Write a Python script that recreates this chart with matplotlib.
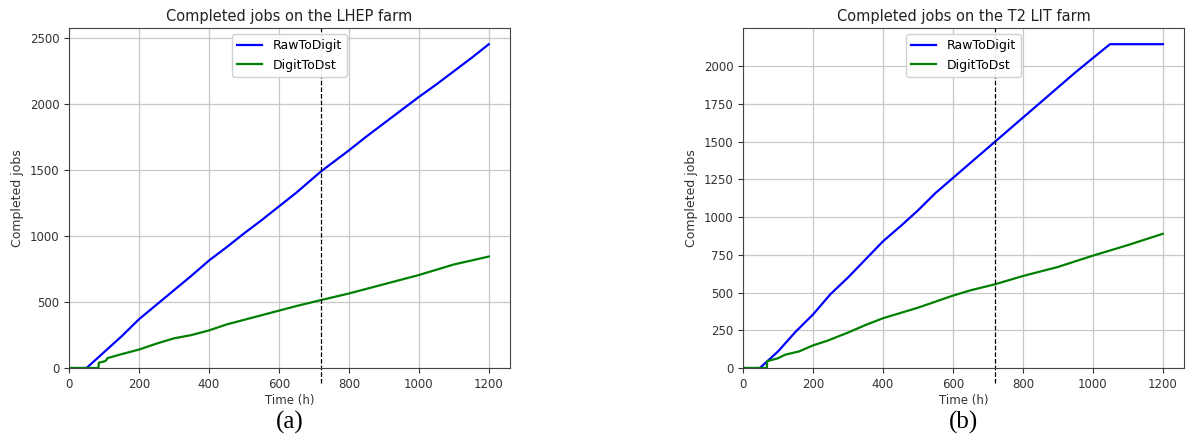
import numpy as np
import matplotlib
matplotlib.use("Agg")
import matplotlib.pyplot as plt

# completed jobs over time on two farms
# LHEP farm
lhep_t_raw = [0, 50, 100, 150, 200, 250, 300, 350, 400, 450, 500, 550, 600, 650, 720,
              800, 850, 900, 950, 1000, 1050, 1100, 1150, 1200]
lhep_raw = [0, 0, 120, 240, 370, 480, 590, 700, 815, 915, 1020, 1120, 1225, 1330, 1490,
            1650, 1755, 1855, 1955, 2055, 2150, 2250, 2350, 2455]
lhep_t_dst = [0, 84, 85, 100, 105, 110, 150, 200, 250, 300, 350, 400, 450, 500, 550,
              600, 650, 720, 800, 850, 900, 950, 1000, 1050, 1100, 1150, 1200]
lhep_dst = [0, 0, 40, 50, 55, 75, 105, 140, 185, 225, 250, 285, 330, 365, 400,
            435, 470, 515, 565, 600, 635, 670, 705, 745, 785, 815, 845]

# T2 LIT farm
lit_t_raw = [0, 48, 100, 150, 200, 250, 300, 350, 400, 450, 500, 550, 600, 650, 720,
             800, 850, 900, 950, 1000, 1049, 1200]
lit_raw = [0, 0, 110, 240, 355, 490, 600, 720, 840, 940, 1045, 1160, 1260, 1360, 1500,
           1660, 1760, 1860, 1960, 2055, 2147, 2147]
lit_t_dst = [0, 68, 69, 100, 120, 160, 200, 240, 300, 350, 400, 450, 500, 550, 600,
             650, 720, 800, 900, 1000, 1100, 1200]
lit_dst = [0, 0, 45, 65, 88, 110, 150, 180, 235, 285, 330, 365, 400, 440, 480,
           515, 555, 610, 670, 745, 815, 890]

cut_time = 720

panels = [
    ("Completed jobs on the LHEP farm", lhep_t_raw, lhep_raw, lhep_t_dst, lhep_dst, "(a)", 500),
    ("Completed jobs on the T2 LIT farm", lit_t_raw, lit_raw, lit_t_dst, lit_dst, "(b)", 250),
]

fig = plt.figure(figsize=(12.01, 4.41), dpi=100)
lefts = [0.0575, 0.6187]
width = 0.367

for left, (title, tr, yr, td, yd, cap, ystep) in zip(lefts, panels):
    ax = fig.add_axes([left, 0.1655, width, 0.771])
    ax.plot(tr, yr, color="blue", lw=1.6, label="RawToDigit")
    ax.plot(td, yd, color="green", lw=1.6, label="DigitToDst")
    ax.axvline(cut_time, ymin=-0.045, ymax=1, color="black", ls="--", lw=0.9, clip_on=False)
    ax.set_xlim(0, 1260)
    ax.set_ylim(0, max(yr) * 1.05)
    ax.set_xticks([0, 200, 400, 600, 800, 1000, 1200])
    ax.set_yticks(np.arange(0, max(yr) * 1.02, ystep))
    ax.grid(True, color="#c8c8c8", lw=0.9)
    ax.set_axisbelow(True)
    ax.tick_params(labelsize=8.5, colors="#333333")
    for sp in ax.spines.values():
        sp.set_color("#444444")
    ax.set_xlabel("Time (h)", fontsize=8.5, color="#333333", labelpad=2)
    ax.set_ylabel("Completed jobs", fontsize=9, color="#333333")
    ax.set_title(title, fontsize=10.5, color="#222222", pad=5)
    ax.legend(loc="upper center", fontsize=9, framealpha=0.9)
    ax.text(0.5, -0.125, cap, transform=ax.transAxes, ha="center", va="top",
            fontsize=18, family="Liberation Serif")

fig.savefig("out.png", dpi=100)
